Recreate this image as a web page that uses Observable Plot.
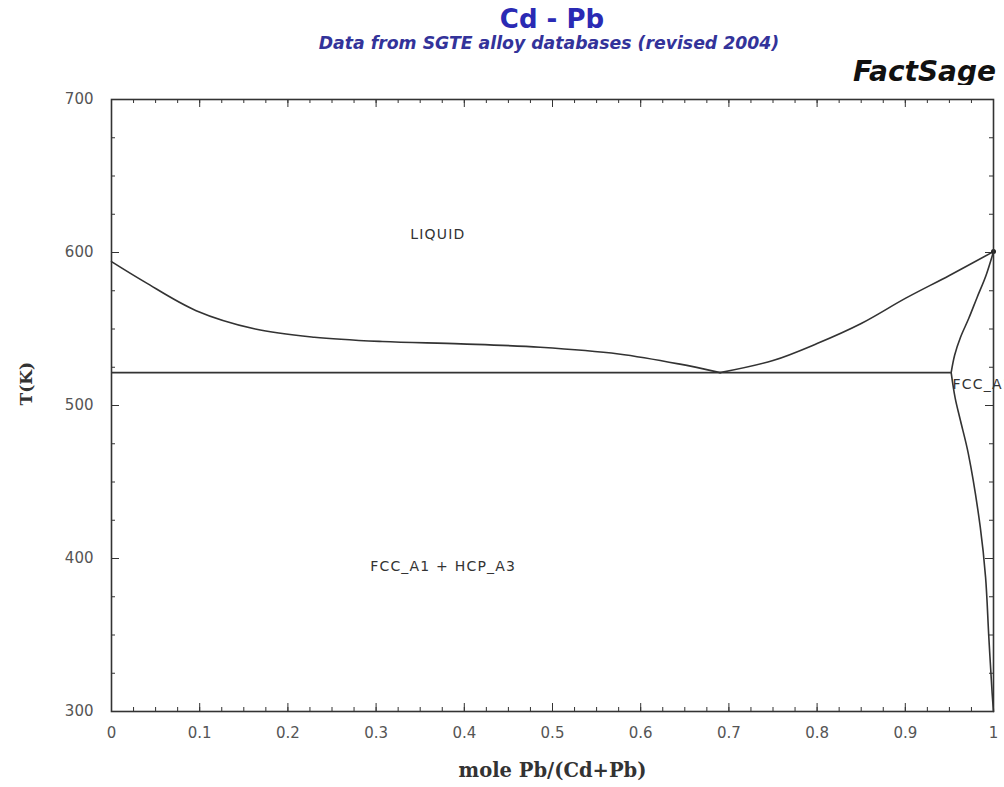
<!DOCTYPE html>
<html>
<head>
<meta charset="utf-8">
<script src="https://cdn.jsdelivr.net/npm/d3@7"></script>
<script src="https://cdn.jsdelivr.net/npm/@observablehq/plot@0.6"></script>
<style>
  body { margin: 0; background: #fff; }
  #wrap { position: relative; width: 1004px; height: 787px; overflow: hidden; background: #fff; }
  .hdr { position: absolute; white-space: nowrap; font-family: "DejaVu Sans", sans-serif; font-weight: bold; }
  #title { left: 552px; top: 5px; transform: translateX(-50%); font-size: 26px; line-height: 28px; color: #2a2ab4; }
  #subtitle { left: 549px; top: 35px; transform: translateX(-50%); font-size: 17.3px; line-height: 16px; font-style: italic; color: #33339a; }
  #brand { right: 8px; top: 56px; font-size: 28px; line-height: 32px; font-style: italic; color: #111; }
  #chart { position: absolute; left: 0; top: 85px; }
</style>
</head>
<body>
<div id="wrap">
  <div class="hdr" id="title">Cd - Pb</div>
  <div class="hdr" id="subtitle">Data from SGTE alloy databases (revised 2004)</div>
  <div class="hdr" id="brand">FactSage</div>
  <div id="chart"></div>
</div>
<script>
// ---- data ----
// Liquidus, Cd-rich side (mole fraction Pb, T in K)
const liqCdX = [0, 0.038, 0.096, 0.163, 0.230, 0.307, 0.396, 0.486, 0.575, 0.643, 0.690];
const liqCdT = [594, 580.6, 562, 550, 544.6, 541.8, 540.3, 538.1, 533.7, 527.2, 521.5];
// Liquidus, Pb-rich side
const liqPbX = [0.690, 0.75, 0.80, 0.85, 0.90, 0.95, 1.0];
const liqPbT = [521.5, 529.4, 540.5, 553.6, 570, 585, 600.6];
// Solidus of FCC_A1 (Pb-rich)
const solX = [1.0, 0.9915, 0.9815, 0.972, 0.9626, 0.956, 0.952];
const solT = [600.6, 585, 570.8, 557, 544.6, 533, 521.5];
// Solvus of FCC_A1
const solvX = [0.952, 0.9565, 0.9626, 0.9715, 0.985, 0.991, 0.9947, 0.9985, 1.0];
const solvT = [521.5, 505, 490, 468.4, 420.5, 387.8, 348.6, 311.6, 300];
// Eutectic
const eutT = 521.5;
const eutX1 = 0;
const eutX2 = 0.952;
// Pb melting point marker
const pbMeltX = [1.0];
const pbMeltT = [600.6];
// Phase labels
const phaseText = ["LIQUID", "FCC_A1 + HCP_A3", "FCC_A1"];
const phaseX = [0.37, 0.376, 0.9535];
const phaseT = [612, 395, 514];
const phaseAnchor = ["middle", "middle", "start"];
// Axes
const xTicks = [0, 0.1, 0.2, 0.3, 0.4, 0.5, 0.6, 0.7, 0.8, 0.9, 1];
const xTickLabels = ["0", "0.1", "0.2", "0.3", "0.4", "0.5", "0.6", "0.7", "0.8", "0.9", "1"];
const xMinor = d3.range(0, 41).map(i => i / 40);
const yTicks = [300, 400, 500, 600, 700];
const yTickLabels = ["300", "400", "500", "600", "700"];
const yMinor = d3.range(300, 701, 25);
const xTitle = "mole Pb/(Cd+Pb)";
const yTitle = "T(K)";

const toPts = (X, T) => X.map((x, i) => ({x, T: T[i]}));
const phases = phaseText.map((t, i) => ({t, x: phaseX[i], T: phaseT[i], a: phaseAnchor[i]}));

const W = 1004, H = 702;
const mT = 14, mB = 76, mL = 111, mR = 11;
const fw = W - mL - mR, fh = H - mT - mB;
const lineColor = "#333";
const major = 8, minor = 4;
const lw = 1.6;

const plot = Plot.plot({
  width: W, height: H,
  marginTop: mT, marginBottom: mB, marginLeft: mL, marginRight: mR,
  x: {domain: [0, 1]},
  y: {domain: [300, 700]},
  style: {fontFamily: "DejaVu Sans, sans-serif", background: "white"},
  marks: [
    // inward ticks on all four sides
    Plot.tickX(xMinor, {x: d => d, insetTop: fh - minor, stroke: lineColor}),
    Plot.tickX(xTicks, {x: d => d, insetTop: fh - major, stroke: lineColor}),
    Plot.tickX(xMinor, {x: d => d, insetBottom: fh - minor, stroke: lineColor}),
    Plot.tickX(xTicks, {x: d => d, insetBottom: fh - major, stroke: lineColor}),
    Plot.tickY(yMinor, {y: d => d, insetRight: fw - minor, stroke: lineColor}),
    Plot.tickY(yTicks, {y: d => d, insetRight: fw - major, stroke: lineColor}),
    Plot.tickY(yMinor, {y: d => d, insetLeft: fw - minor, stroke: lineColor}),
    Plot.tickY(yTicks, {y: d => d, insetLeft: fw - major, stroke: lineColor}),
    // tick labels
    Plot.axisX(xTicks, {tickSize: 0, tickPadding: 16, tickFormat: (d, i) => xTickLabels[i], fontSize: 15, fill: "#555", label: null}),
    Plot.axisY(yTicks, {tickSize: 0, tickPadding: 18, tickFormat: (d, i) => yTickLabels[i], fontSize: 15, fill: "#555", label: null}),
    // phase boundaries
    Plot.ruleY([eutT], {x1: eutX1, x2: eutX2, stroke: lineColor, strokeWidth: lw}),
    Plot.line(toPts(liqCdX, liqCdT), {x: "x", y: "T", curve: "catmull-rom", stroke: lineColor, strokeWidth: lw}),
    Plot.line(toPts(liqPbX, liqPbT), {x: "x", y: "T", curve: "catmull-rom", stroke: lineColor, strokeWidth: lw}),
    Plot.line(toPts(solX, solT), {x: "x", y: "T", curve: "catmull-rom", stroke: lineColor, strokeWidth: lw}),
    Plot.line(toPts(solvX, solvT), {x: "x", y: "T", curve: "catmull-rom", stroke: lineColor, strokeWidth: lw}),
    Plot.dot(toPts(pbMeltX, pbMeltT), {x: "x", y: "T", r: 2.5, fill: "#222", stroke: null}),
    // phase labels
    Plot.text(phases.filter(d => d.a === "middle"), {x: "x", y: "T", text: "t", textAnchor: "middle", fontSize: 14, fill: "#333"}),
    Plot.text(phases.filter(d => d.a === "start"), {x: "x", y: "T", text: "t", textAnchor: "start", fontSize: 14, fill: "#333"}),
    // axis titles
    Plot.text([yTitle], {text: d => d, frameAnchor: "left", dx: -85, rotate: -90, fontFamily: "DejaVu Serif, serif", fontWeight: "bold", fontSize: 17, fill: "#333"}),
    Plot.text([xTitle], {text: d => d, frameAnchor: "bottom", dy: 65, fontFamily: "DejaVu Serif, serif", fontWeight: "bold", fontSize: 19.5, fill: "#333"}),
    Plot.frame({stroke: lineColor, strokeWidth: lw})
  ]
});
// widen the phase labels a little, like the reference's bitmap font
d3.select(plot).selectAll("text")
  .filter(function () { return phaseText.includes(this.textContent); })
  .style("letter-spacing", "1.2px");
document.getElementById("chart").appendChild(plot);
</script>
</body>
</html>
